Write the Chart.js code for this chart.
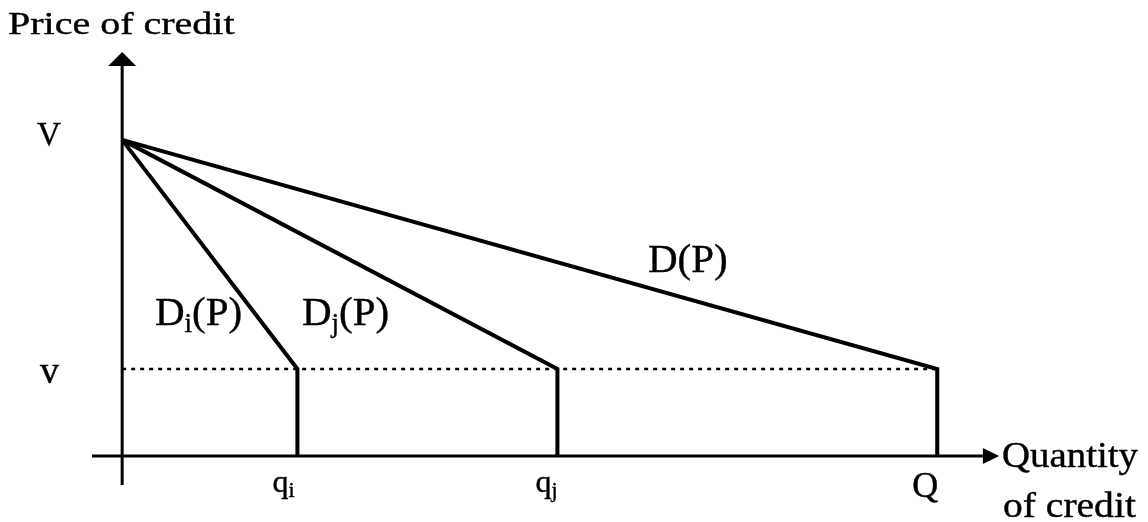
<!DOCTYPE html>
<html>
<head>
<meta charset="utf-8">
<style>
  html, body { margin: 0; padding: 0; background: #fff; }
  #wrap { width: 1148px; height: 522px; }
</style>
<script src="https://cdn.jsdelivr.net/npm/chart.js@4"></script>
</head>
<body>
<div id="wrap"><canvas id="c" width="1148" height="522"></canvas></div>
<script>
// values (origin = 0,0)
const curveNames = ["D_i(P)", "D_j(P)", "D(P)"];
const quantityNames = ["q_i", "q_j", "Q"];
const quantityAtLowPrice = [2.15, 5.34, 10];   // q_i, q_j, Q
const priceNames = ["V", "v"];
const priceLevels = [10, 2.75];                 // V (top), v (floor)
const xAxisEnds = [-0.37, 10.56];
const yAxisEnds = [-0.92, 12.34];
const arrowTips = [10.76, 12.78];               // x arrow tip, y arrow tip

const SERIF = '"Liberation Serif", "Times New Roman", serif';
const INK = "#000";

function parts(label, size, subRatio) {
  const m = label.match(/^([^_]*)_(.)(.*)$/);
  if (!m) return [[label, size, 0]];
  return [[m[1], size, 0], [m[2], Math.round(size * subRatio), Math.round(size * 0.17)], [m[3], size, 0]];
}

function drawText(ctx, ps, x, y, sx) {
  ctx.save();
  ctx.translate(x, y);
  ctx.scale(sx || 1, 1);
  ctx.fillStyle = INK;
  ctx.strokeStyle = INK;
  ctx.lineWidth = 0.4;
  ctx.textBaseline = "alphabetic";
  ctx.textAlign = "left";
  let cx = 0;
  ps.forEach(([t, size, dy]) => {
    if (!t) return;
    ctx.font = size + "px " + SERIF;
    ctx.fillText(t, cx, dy);
    ctx.strokeText(t, cx, dy);
    cx += ctx.measureText(t).width;
  });
  ctx.restore();
}

const diagram = {
  id: "diagram",
  afterDatasetsDraw(chart) {
    const ctx = chart.ctx, xs = chart.scales.x, ys = chart.scales.y;
    const ox = xs.getPixelForValue(0), oy = ys.getPixelForValue(0);
    ctx.save();
    ctx.fillStyle = INK;
    // x arrow
    const xb = xs.getPixelForValue(xAxisEnds[1]), xt = xs.getPixelForValue(arrowTips[0]);
    ctx.beginPath();
    ctx.moveTo(xt, oy); ctx.lineTo(xb, oy - 8); ctx.lineTo(xb, oy + 8); ctx.closePath();
    ctx.fill();
    // y arrow
    const yb = ys.getPixelForValue(yAxisEnds[1]), yt = ys.getPixelForValue(arrowTips[1]);
    ctx.beginPath();
    ctx.moveTo(ox, yt); ctx.lineTo(ox - 14, yb); ctx.lineTo(ox + 14, yb); ctx.closePath();
    ctx.fill();
    ctx.restore();
  },
  afterDraw(chart) {
    const ctx = chart.ctx, xs = chart.scales.x, ys = chart.scales.y;
    // axis titles
    drawText(ctx, [["Price of credit", 32, 0]], 8, 34, 1.25);
    drawText(ctx, [["Quantity", 35, 0]], 1002, 467, 1.11);
    drawText(ctx, [["of credit", 35, 0]], 1003, 517, 1.13);
    // price marks
    drawText(ctx, [[priceNames[0], 33, 0]], 37, ys.getPixelForValue(priceLevels[0]) + 5);
    drawText(ctx, [[priceNames[1], 38, 0]], 40, ys.getPixelForValue(priceLevels[1]) + 14);
    // quantity marks
    const qOff = [-25, -22, -25];
    const qSize = [32, 32, 36];
    quantityNames.forEach((n, i) => {
      drawText(ctx, parts(n, qSize[i], 0.68), xs.getPixelForValue(quantityAtLowPrice[i]) + qOff[i], i === 2 ? 497 : 492);
    });
    // curve labels
    const curvePos = [[155, 325], [302, 325], [648, 272]];
    curveNames.forEach((n, i) => {
      drawText(ctx, parts(n, 41, 0.65), curvePos[i][0], curvePos[i][1]);
    });
  }
};

const datasets = [
  { data: [{ x: xAxisEnds[0], y: 0 }, { x: xAxisEnds[1], y: 0 }], borderWidth: 3 },
  { data: [{ x: 0, y: yAxisEnds[0] }, { x: 0, y: yAxisEnds[1] }], borderWidth: 3 },
  { data: [{ x: 0, y: priceLevels[1] }, { x: quantityAtLowPrice[2], y: priceLevels[1] }], borderWidth: 2.5, borderDash: [4, 5] }
];
quantityAtLowPrice.forEach((q, i) => {
  datasets.push({
    label: curveNames[i],
    data: [{ x: 0, y: priceLevels[0] }, { x: q, y: priceLevels[1] }, { x: q, y: 0 }],
    borderWidth: 4
  });
});
datasets.forEach(d => {
  d.borderColor = INK;
  d.pointRadius = 0;
  d.fill = false;
  d.tension = 0;
});

new Chart(document.getElementById("c").getContext("2d"), {
  type: "line",
  data: { datasets: datasets },
  options: {
    responsive: false,
    animation: false,
    devicePixelRatio: 1,
    layout: { padding: { left: 92, right: 148, top: 52, bottom: 37 } },
    plugins: { legend: { display: false }, tooltip: { enabled: false } },
    scales: {
      x: { type: "linear", display: false, min: -0.37, max: 10.77 },
      y: { type: "linear", display: false, min: -0.92, max: 12.78 }
    }
  },
  plugins: [diagram]
});
</script>
</body>
</html>
